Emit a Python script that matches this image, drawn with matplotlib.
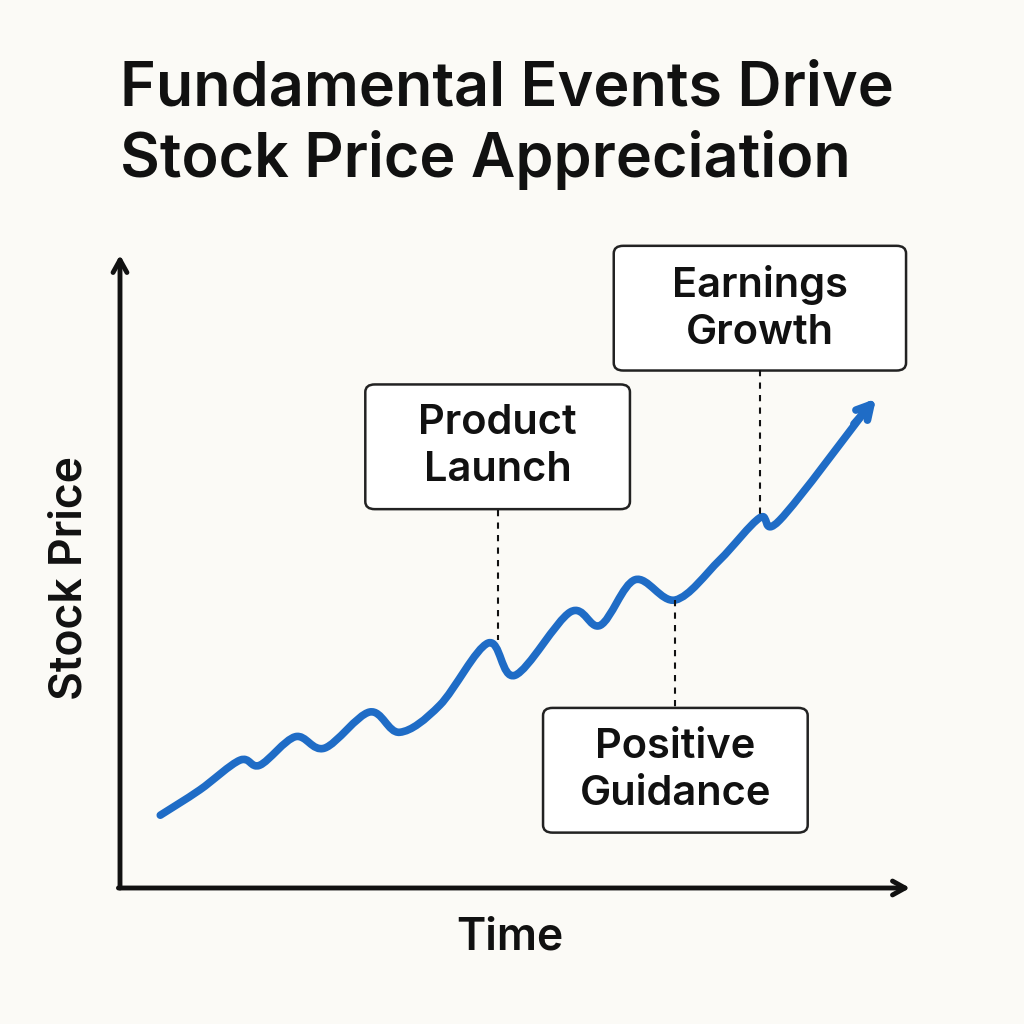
import matplotlib

matplotlib.use("Agg")
import matplotlib.pyplot as plt
from matplotlib.patches import FancyBboxPatch, PathPatch
from matplotlib.path import Path
import numpy as np

# price path (time and price in 0..100 axis units)
time = [5.1, 10.1, 15.2, 17.7, 22.2, 25.9, 31.6, 35.4, 40.5, 46.6, 50.0,
        57.0, 60.8, 65.2, 70.3, 75.9, 81.0, 83.5, 94.9]
price = [11.5, 15.5, 20.2, 19.4, 23.9, 22.1, 27.8, 24.6, 28.9, 38.7, 33.6,
         43.6, 41.5, 48.7, 45.5, 51.8, 58.5, 58.1, 76.3]

# event labels: text, box centre (x, y), box width, dashed line x, y-from, y-to
events = ["Product\nLaunch", "Earnings\nGrowth", "Positive\nGuidance"]
box_x = [47.8, 81.0, 70.3]
box_y = [69.7, 91.6, 18.6]
box_w = [33.5, 37.0, 33.5]
line_x = [47.8, 81.0, 70.3]
line_y0 = [59.7, 81.8, 45.5]
line_y1 = [39.2, 58.3, 28.4]

BG = "#fbfaf6"
BLUE = "#1f6cc6"
INK = "#111111"


def smooth_path(xs, ys):
    # Catmull-Rom through the points, expressed as cubic Bezier segments
    p = np.column_stack([xs, ys])
    verts = [p[0]]
    codes = [Path.MOVETO]
    for i in range(len(p) - 1):
        p0 = p[i - 1] if i > 0 else p[i]
        p3 = p[i + 2] if i + 2 < len(p) else p[i + 1]
        c1 = p[i] + (p[i + 1] - p0) / 6
        c2 = p[i + 1] - (p3 - p[i]) / 6
        verts += [c1, c2, p[i + 1]]
        codes += [Path.CURVE4] * 3
    return Path(verts, codes)


fig = plt.figure(figsize=(10.24, 10.24), dpi=100, facecolor=BG)
ax = fig.add_axes([120 / 1024, 1 - 888 / 1024, 790 / 1024, 633 / 1024])
ax.set_facecolor(BG)
ax.set_xlim(0, 100)
ax.set_ylim(0, 100)
ax.set_xticks([])
ax.set_yticks([])
for s in ax.spines.values():
    s.set_visible(False)

# axis arrows
head = "->,head_length=0.9,head_width=0.5"
ax.annotate("", xy=(0, 100), xytext=(0, 0), annotation_clip=False,
            arrowprops=dict(arrowstyle=head, color=INK, lw=3.5, shrinkA=0, shrinkB=0))
ax.annotate("", xy=(100, 0), xytext=(-0.2, 0), annotation_clip=False,
            arrowprops=dict(arrowstyle=head, color=INK, lw=3.5, shrinkA=0, shrinkB=0))

# price line
ax.add_patch(PathPatch(smooth_path(time, price), fc="none", ec=BLUE, lw=5.5,
                       capstyle="round", joinstyle="round"))
ax.annotate("", xy=(time[-1] + 0.8, price[-1] + 1.0), xytext=(time[-1] - 2, price[-1] - 3),
            arrowprops=dict(arrowstyle="->,head_length=1.0,head_width=0.55", color=BLUE, lw=5.5,
                            shrinkA=0, shrinkB=0))

# events
for txt, bx, by, bw, lx, y0, y1 in zip(events, box_x, box_y, box_w, line_x, line_y0, line_y1):
    ax.plot([lx, lx], [y0, y1], color=INK, lw=1.5, ls=(0, (3, 3)))
    bh = 19.7
    ax.add_patch(FancyBboxPatch((bx - bw / 2, by - bh / 2), bw, bh,
                                boxstyle="round,pad=0,rounding_size=1.2",
                                fc="white", ec="#222222", lw=1.8, clip_on=False))
    ax.text(bx, by, txt, ha="center", va="center", fontsize=30, color=INK,
            fontweight="semibold", linespacing=1.3, fontfamily="Inter")

fig.text(120 / 1024, 1 - 90 / 1024, "Fundamental Events Drive", fontsize=44,
         fontweight="semibold", fontfamily="Inter", color=INK, va="center")
fig.text(120 / 1024, 1 - 160 / 1024, "Stock Price Appreciation", fontsize=44,
         fontweight="semibold", fontfamily="Inter", color=INK, va="center")
fig.text(70 / 1024, 1 - 578 / 1024, "Stock Price", rotation=90, fontsize=32,
         fontweight="semibold", fontfamily="Inter", color=INK, ha="center", va="center")
fig.text(510 / 1024, 1 - 938 / 1024, "Time", fontsize=32,
         fontweight="semibold", fontfamily="Inter", color=INK, ha="center", va="center")

fig.savefig("out.png", dpi=100, facecolor=BG)
